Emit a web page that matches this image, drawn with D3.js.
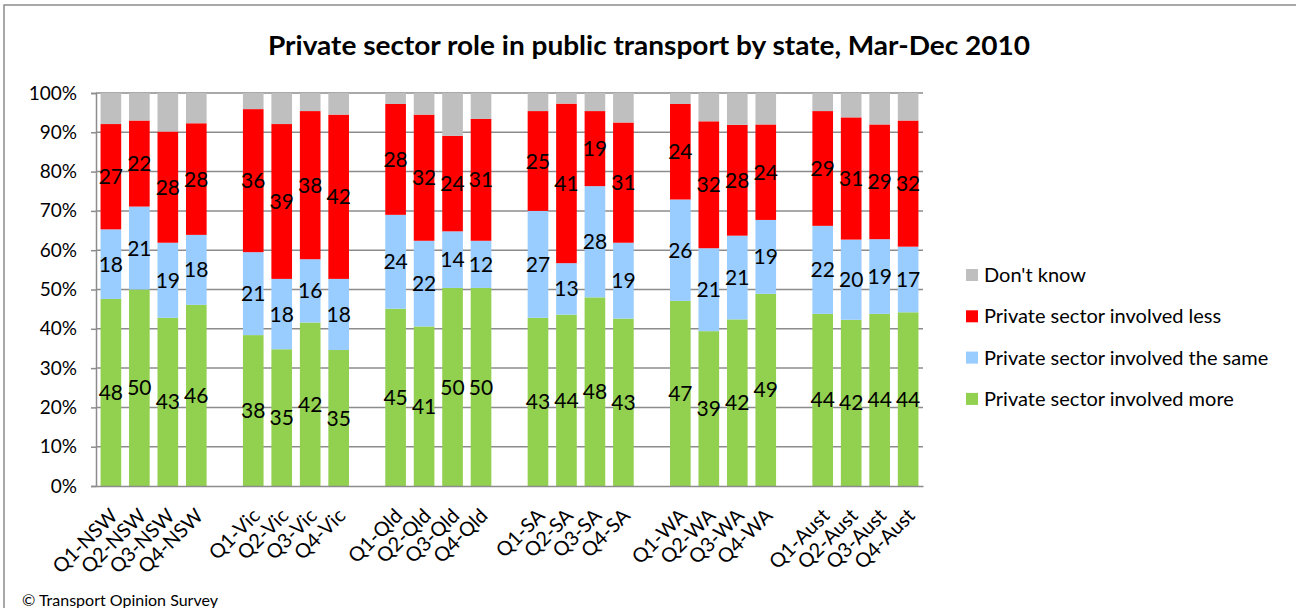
<!DOCTYPE html>
<html>
<head>
<meta charset="utf-8">
<script src="https://cdn.jsdelivr.net/npm/d3@7"></script>
<style>
  body { margin: 0; background: #fff; }
  svg { display: block; font-family: Lato, "Open Sans", sans-serif; }
</style>
</head>
<body>
<svg id="chart" width="1296" height="608"></svg>
<script>
// categories, "" marks an empty slot between states
const categories = ["Q1-NSW", "Q2-NSW", "Q3-NSW", "Q4-NSW", "",
  "Q1-Vic", "Q2-Vic", "Q3-Vic", "Q4-Vic", "",
  "Q1-Qld", "Q2-Qld", "Q3-Qld", "Q4-Qld", "",
  "Q1-SA", "Q2-SA", "Q3-SA", "Q4-SA", "",
  "Q1-WA", "Q2-WA", "Q3-WA", "Q4-WA", "",
  "Q1-Aust", "Q2-Aust", "Q3-Aust", "Q4-Aust"];

const involvedMore = [47.6, 50.0, 42.8, 46.1, null,
  38.4, 34.8, 41.6, 34.6, null,
  45.1, 40.6, 50.4, 50.4, null,
  42.8, 43.6, 48.0, 42.6, null,
  47.1, 39.4, 42.4, 48.9, null,
  43.8, 42.3, 43.8, 44.2];
const involvedSame = [17.7, 21.1, 19.1, 17.8, null,
  21.1, 17.9, 16.1, 18.1, null,
  23.9, 21.8, 14.4, 12.0, null,
  27.2, 13.1, 28.3, 19.3, null,
  25.8, 21.1, 21.3, 18.8, null,
  22.4, 20.4, 19.0, 16.7];
const involvedLess = [26.8, 21.9, 28.3, 28.4, null,
  36.4, 39.4, 37.7, 41.8, null,
  28.2, 32.1, 24.3, 31.0, null,
  25.4, 40.6, 19.1, 30.6, null,
  24.3, 32.3, 28.2, 24.3, null,
  29.2, 31.1, 29.2, 32.1];
const dontKnow = [7.9, 7.0, 9.8, 7.7, null,
  4.1, 7.9, 4.6, 5.5, null,
  2.8, 5.5, 10.9, 6.6, null,
  4.6, 2.7, 4.6, 7.5, null,
  2.8, 7.2, 8.1, 8.0, null,
  4.6, 6.2, 8.0, 7.0];

const yTicks = [0, 10, 20, 30, 40, 50, 60, 70, 80, 90, 100];

const series = [
  {key: "more", name: "Private sector involved more", color: "#92d050", values: involvedMore, label: true},
  {key: "same", name: "Private sector involved the same", color: "#99ccff", values: involvedSame, label: true},
  {key: "less", name: "Private sector involved less", color: "#ff0000", values: involvedLess, label: true},
  {key: "dk", name: "Don't know", color: "#bfbfbf", values: dontKnow, label: false}
];

const svg = d3.select("#chart");
const width = 1296, height = 608;
const margin = {left: 96, right: 373, top: 93, bottom: 122};

// outer chart border (right and bottom run off the picture)
svg.append("rect")
  .attr("x", 4).attr("y", 5)
  .attr("width", 1400).attr("height", 700)
  .attr("fill", "none")
  .attr("stroke", "#8c8c8c")
  .attr("stroke-width", 1.5);

svg.append("text")
  .attr("x", 649).attr("y", 55)
  .attr("text-anchor", "middle")
  .attr("font-size", 26)
  .attr("font-weight", "bold")
  .attr("fill", "#000")
  .attr("textLength", 762)
  .attr("lengthAdjust", "spacingAndGlyphs")
  .text("Private sector role in public transport by state, Mar-Dec 2010");

const keys = categories.map((c, i) => c === "" ? "gap" + i : c);

const x = d3.scaleBand()
  .domain(keys)
  .range([margin.left, width - margin.right])
  .paddingInner(0.275)
  .paddingOuter(0.16);

const y = d3.scaleLinear()
  .domain([0, 100])
  .range([height - margin.bottom, margin.top]);

// gridlines
svg.append("g")
  .selectAll("line")
  .data(yTicks.slice(1))
  .join("line")
    .attr("x1", margin.left).attr("x2", width - margin.right)
    .attr("y1", d => y(d)).attr("y2", d => y(d))
    .attr("stroke", "#8c8c8c")
    .attr("stroke-width", 1.5);

// stacked rows
const rows = keys.map((k, i) => ({
  key: k,
  more: involvedMore[i] || 0,
  same: involvedSame[i] || 0,
  less: involvedLess[i] || 0,
  dk: dontKnow[i] || 0,
  blank: categories[i] === ""
})).filter(d => !d.blank);

const stacked = d3.stack().keys(series.map(s => s.key))(rows);

const layers = svg.append("g")
  .selectAll("g")
  .data(stacked)
  .join("g")
    .attr("fill", (d, i) => series[i].color);

layers.selectAll("rect")
  .data(d => d)
  .join("rect")
    .attr("x", d => x(d.data.key))
    .attr("width", x.bandwidth())
    .attr("y", d => y(d[1]))
    .attr("height", d => y(d[0]) - y(d[1]));

// data labels
stacked.forEach((layer, i) => {
  if (!series[i].label) return;
  svg.append("g")
    .selectAll("text")
    .data(layer)
    .join("text")
      .attr("x", d => x(d.data.key) + x.bandwidth() / 2)
      .attr("y", d => y((d[0] + d[1]) / 2))
      .attr("dy", "0.36em")
      .attr("text-anchor", "middle")
      .attr("font-size", 21)
      .attr("fill", "#000")
      .text(d => Math.round(d[1] - d[0]));
});

// y axis
const yAxis = svg.append("g")
  .attr("transform", `translate(${margin.left},0)`)
  .call(d3.axisLeft(y).tickValues(yTicks).tickFormat(d => d + "%").tickSize(5).tickPadding(14));
yAxis.select(".domain").attr("stroke", "#8c8c8c").attr("stroke-width", 1.5);
yAxis.selectAll(".tick line").attr("stroke", "#8c8c8c").attr("stroke-width", 1.5);
yAxis.selectAll(".tick text").attr("font-size", 19).attr("fill", "#000").attr("font-family", "Lato, sans-serif");

// x axis
const xAxis = svg.append("g")
  .attr("transform", `translate(0,${height - margin.bottom})`)
  .call(d3.axisBottom(x).tickSize(0).tickSizeOuter(0).tickFormat(d => d.startsWith("gap") ? "" : d));
xAxis.select(".domain").attr("stroke", "#8c8c8c").attr("stroke-width", 1.5);
xAxis.selectAll(".tick text")
  .attr("font-size", 20)
  .attr("fill", "#000")
  .attr("font-family", "Lato, sans-serif")
  .attr("text-anchor", "end")
  .attr("dy", 0)
  .attr("y", 0)
  .attr("transform", "translate(8,31) rotate(-45)");

// legend
const legendItems = series.slice().reverse();
const legend = svg.append("g")
  .selectAll("g")
  .data(legendItems)
  .join("g")
    .attr("transform", (d, i) => `translate(966,${275 + i * 41.3})`);
legend.append("rect")
  .attr("x", 0).attr("y", -6)
  .attr("width", 12).attr("height", 12)
  .attr("fill", d => d.color);
legend.append("text")
  .attr("x", 18).attr("y", 0)
  .attr("dy", "0.35em")
  .attr("font-size", 20)
  .attr("fill", "#000")
  .text(d => d.name);

svg.append("text")
  .attr("x", 22).attr("y", 606)
  .attr("font-size", 16)
  .attr("fill", "#000")
  .text("\u00a9 Transport Opinion Survey");
</script>
</body>
</html>
